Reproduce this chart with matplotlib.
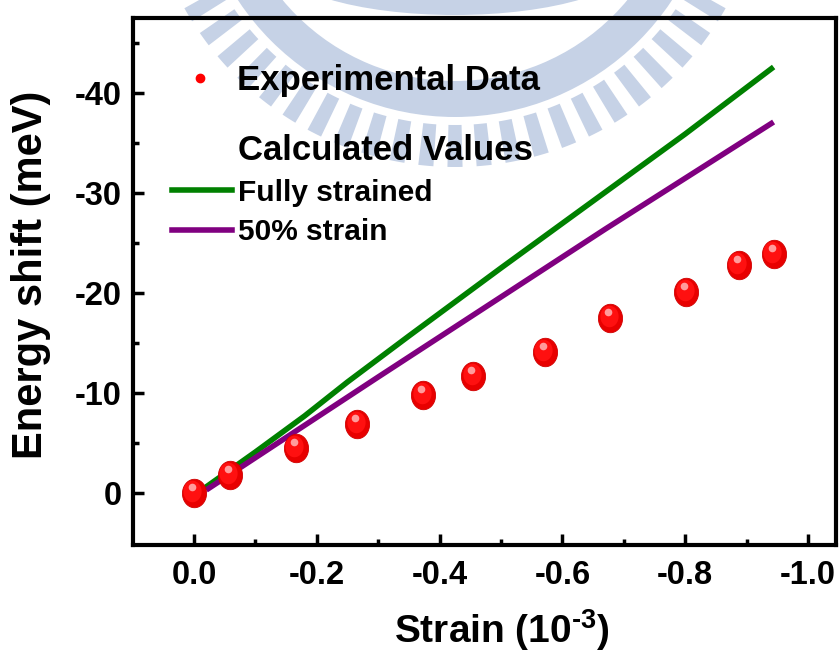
import numpy as np
import matplotlib
matplotlib.use('Agg')
import matplotlib.pyplot as plt
from matplotlib import font_manager, transforms
from matplotlib.patches import Wedge, Ellipse
from matplotlib.path import Path
from matplotlib.lines import Line2D

# experimental points
strain_exp = [0.0, -0.058, -0.166, -0.266, -0.373, -0.455, -0.571, -0.678, -0.802, -0.887, -0.944]
shift_exp = [0.0, -1.8, -4.5, -6.9, -9.8, -11.7, -14.1, -17.5, -20.1, -22.8, -23.9]

# calculated curves
strain_full = [-0.015, -0.10, -0.18, -0.25, -0.35, -0.50, -0.65, -0.80, -0.944]
shift_full = [-0.4, -4.1, -7.7, -11.1, -15.7, -22.5, -29.2, -35.9, -42.6]
strain_half = [-0.02, -0.30, -0.67, -0.944]
shift_half = [-0.3, -11.6, -26.4, -37.1]

xticks = [0.0, -0.2, -0.4, -0.6, -0.8, -1.0]
yticks = [0, -10, -20, -30, -40]

names = {f.name for f in font_manager.fontManager.ttflist}
narrow = 'Liberation Sans Narrow' in names
tick_family = 'Liberation Sans Narrow' if narrow else 'Liberation Sans'
tick_size = 27 if narrow else 23.5
xlab_size = 32 if narrow else 28

plt.rcParams['font.family'] = ['Liberation Sans', 'DejaVu Sans']
plt.rcParams['font.weight'] = 'bold'
plt.rcParams['axes.unicode_minus'] = False
plt.rcParams['mathtext.fontset'] = 'custom'
plt.rcParams['mathtext.rm'] = tick_family + ':bold'
plt.rcParams['mathtext.bf'] = tick_family + ':bold'

W, H = 840, 652
fig = plt.figure(figsize=(W / 100, H / 100), dpi=100)
ax = fig.add_axes([133 / W, 1 - 545 / H, (836 - 133) / W, (545 - 18) / H])
ax.set_facecolor('none')

# watermark logo behind the plot (pixel coords, y down)
px = transforms.Affine2D().scale(1 / W, -1 / H).translate(0, 1) + fig.transFigure
wm = '#c6d2e6'
cen = (455, -143)
fig.add_artist(Ellipse((455, -40), 360, 110, transform=px, color=wm, lw=0, zorder=-5))
fig.add_artist(Wedge(cen, 260, 0, 360, width=36, transform=px, color=wm, lw=0, zorder=-5))
for a in np.arange(90 - 5.4 * 17, 90 + 5.4 * 17 + 0.1, 5.4):
    fig.add_artist(Wedge(cen, 310, a - 1.4, a + 1.4, width=42, transform=px,
                         color=wm, lw=0, zorder=-5))

ax.plot(strain_full, shift_full, color='#008000', lw=4, solid_capstyle='butt', zorder=2)
ax.plot(strain_half, shift_half, color='#800080', lw=4, solid_capstyle='butt', zorder=2)

t = np.linspace(0, 2 * np.pi, 60)
ell = Path(np.column_stack([np.cos(t), 1.18 * np.sin(t)]))
ax.plot(strain_exp, shift_exp, ls='none', marker=ell, ms=20.5, mfc='#e80000',
        mec='#d00000', mew=0.6, zorder=4)
off1 = transforms.offset_copy(ax.transData, fig=fig, x=-1.5, y=2, units='dots')
ax.plot(strain_exp, shift_exp, ls='none', marker=ell, ms=15.5, mfc='#ff1010',
        mew=0, transform=off1, zorder=5)
off2 = transforms.offset_copy(ax.transData, fig=fig, x=-2, y=6, units='dots')
ax.plot(strain_exp, shift_exp, ls='none', marker='o', ms=5.5, mfc='#ff9c9c',
        mew=0, transform=off2, zorder=6)

ax.set_xlim(0.0993, -1.0456)
ax.set_ylim(5.2, -47.5)
ax.set_xticks(xticks)
ax.set_xticklabels(['%.1f' % v if v != 0 else '0.0' for v in xticks])
ax.set_yticks(yticks)
ax.set_yticklabels([str(v) for v in yticks])
ax.set_xticks(np.arange(-0.1, -1.05, -0.2), minor=True)
ax.set_yticks([-5, -15, -25, -35, -45], minor=True)

for s in ax.spines.values():
    s.set_linewidth(3)
ax.tick_params(which='both', direction='in', top=False, right=False, width=2.5)
ax.tick_params(which='major', length=8)
ax.tick_params(which='minor', length=4)
ax.tick_params(axis='x', pad=11)
ax.tick_params(axis='y', pad=8)
for lab in ax.get_xticklabels() + ax.get_yticklabels():
    lab.set_family([tick_family, 'Liberation Sans'])
    lab.set_fontsize(tick_size)
    lab.set_fontweight('bold')

ax.set_ylabel('Energy shift (meV)', fontsize=30, fontweight='bold')
ax.yaxis.set_label_coords((31 - 133) / 703, (545 - 275) / 527)
ax.yaxis.label.set_va('center')
ax.set_xlabel(r'Strain (10$^{\text{-3}}$)', fontsize=xlab_size, fontweight='bold',
              family=[tick_family, 'Liberation Sans'])
ax.xaxis.set_label_coords((502 - 133) / 703, (545 - 643) / 527)
ax.xaxis.label.set_va('baseline')

# legends
h_exp = Line2D([], [], ls='none', marker='o', color='red', ms=6)
leg_a = ax.legend([h_exp], ['Experimental Data'], loc='upper left',
                  bbox_to_anchor=(182.6 / W, 1 - 64 / H), bbox_transform=fig.transFigure,
                  frameon=False, borderpad=0, borderaxespad=0, handlelength=1.0,
                  handletextpad=0.556, prop=dict(family='Liberation Sans', weight='bold', size=25))
ax.add_artist(leg_a)

h_blank = Line2D([], [], color='none')
h_full = Line2D([], [], color='#008000', lw=4)
h_half = Line2D([], [], color='#800080', lw=4)
leg_b = ax.legend([h_blank, h_full, h_half], ['Calculated Values', 'Fully strained', '50% strain'],
                  loc='upper left', bbox_to_anchor=(172 / W, 1 - 134 / H),
                  bbox_transform=fig.transFigure, frameon=False, borderpad=0,
                  borderaxespad=0, handlelength=2.0, handletextpad=0.2,
                  labelspacing=0.39, prop=dict(family='Liberation Sans', weight='bold', size=21.5))
leg_b.get_texts()[0].set_fontsize(25)

fig.savefig('out.png', dpi=100)
